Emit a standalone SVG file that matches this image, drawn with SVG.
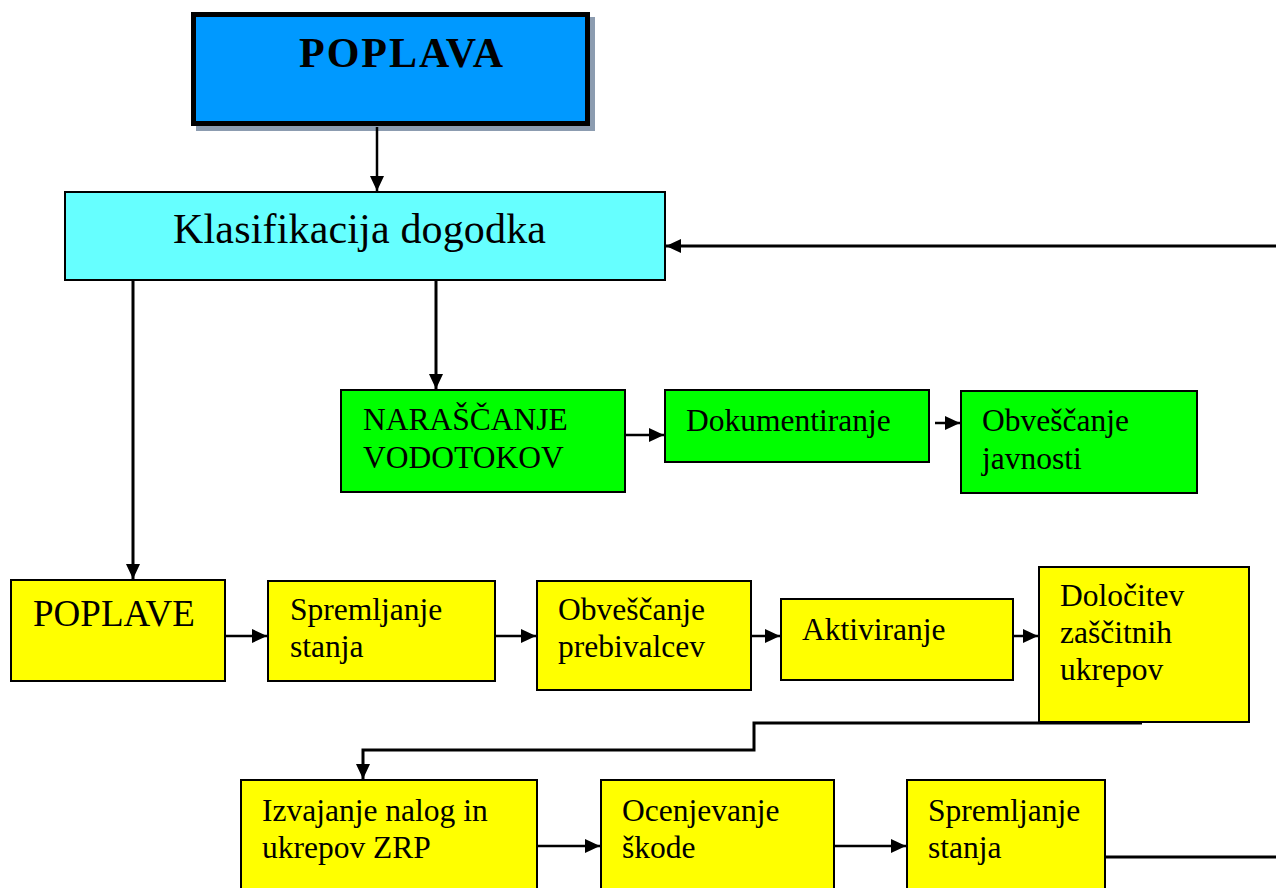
<svg xmlns="http://www.w3.org/2000/svg" width="1276" height="888" viewBox="0 0 1276 888">
<style>
.t{font-family:"Liberation Serif","Times New Roman",serif;fill:#000;font-size:31.5px}
.g{fill:#00ff00;stroke:#000;stroke-width:2}
.y{fill:#ffff00;stroke:#000;stroke-width:2}
.c{fill:none;stroke:#000;stroke-width:3}
.c2{fill:none;stroke:#000;stroke-width:2.5}
</style>
<defs>
<marker id="ah" markerWidth="16" markerHeight="14" refX="15" refY="7" orient="auto" markerUnits="userSpaceOnUse">
<path d="M0,0 L15,7 L0,14 Z" fill="#000"/>
</marker>
</defs>
<rect width="1276" height="888" fill="#fff"/>
<g id="poplava">
<rect x="196" y="17" width="399" height="114" fill="#8c9cb0"/>
<rect x="193.5" y="14.5" width="394" height="109" fill="#0099ff" stroke="#000" stroke-width="5"/>
<text class="t" x="299" y="67" style="font-size:42px" font-weight="bold" textLength="204" lengthAdjust="spacing">POPLAVA</text>
</g>
<g id="klasifikacija">
<rect x="65" y="192" width="600" height="88" fill="#66ffff" stroke="#000" stroke-width="2"/>
<text class="t" x="173" y="243" style="font-size:42px" textLength="373" lengthAdjust="spacing">Klasifikacija dogodka</text>
</g>
<g id="narascanje">
<rect class="g" x="341" y="390" width="284" height="102"/>
<text class="t" x="363" y="430">NARAŠČANJE</text>
<text class="t" x="363" y="468">VODOTOKOV</text>
</g>
<g id="dokumentiranje">
<rect class="g" x="665" y="390" width="264" height="72"/>
<text class="t" x="686" y="431">Dokumentiranje</text>
</g>
<g id="obvescanje-javnosti">
<rect class="g" x="961" y="391" width="236" height="102"/>
<text class="t" x="982" y="431">Obveščanje</text>
<text class="t" x="982" y="469">javnosti</text>
</g>
<g id="poplave">
<rect class="y" x="11" y="580" width="214" height="101"/>
<text class="t" x="33" y="626" style="font-size:37px">POPLAVE</text>
</g>
<g id="spremljanje1">
<rect class="y" x="268" y="581" width="227" height="100"/>
<text class="t" x="290" y="620">Spremljanje</text>
<text class="t" x="290" y="657">stanja</text>
</g>
<g id="obvescanje-prebivalcev">
<rect class="y" x="537" y="581" width="214" height="109"/>
<text class="t" x="558" y="620">Obveščanje</text>
<text class="t" x="558" y="657">prebivalcev</text>
</g>
<g id="aktiviranje">
<rect class="y" x="781" y="599" width="232" height="81"/>
<text class="t" x="802" y="640">Aktiviranje</text>
</g>
<g id="dolocitev">
<rect class="y" x="1039" y="567" width="210" height="155"/>
<text class="t" x="1060" y="606">Določitev</text>
<text class="t" x="1060" y="643">zaščitnih</text>
<text class="t" x="1060" y="680">ukrepov</text>
</g>
<g id="izvajanje">
<rect class="y" x="241" y="780" width="296" height="120"/>
<text class="t" x="262" y="821">Izvajanje nalog in</text>
<text class="t" x="262" y="858">ukrepov ZRP</text>
</g>
<g id="ocenjevanje">
<rect class="y" x="601" y="780" width="233" height="120"/>
<text class="t" x="622" y="821">Ocenjevanje</text>
<text class="t" x="622" y="858">škode</text>
</g>
<g id="spremljanje2">
<rect class="y" x="907" y="780" width="198" height="120"/>
<text class="t" x="928" y="821">Spremljanje</text>
<text class="t" x="928" y="858">stanja</text>
</g>
<g id="connectors">
<path class="c2" d="M377,127 V191" marker-end="url(#ah)"/>
<path class="c" d="M1276,246 H666" marker-end="url(#ah)"/>
<path class="c" d="M133,281 V579" marker-end="url(#ah)"/>
<path class="c" d="M436,281 V389" marker-end="url(#ah)"/>
<path class="c2" d="M625,435 H664" marker-end="url(#ah)"/>
<path class="c2" d="M935,423 H960" marker-end="url(#ah)"/>
<path class="c2" d="M225,636 H267" marker-end="url(#ah)"/>
<path class="c2" d="M495,636 H536" marker-end="url(#ah)"/>
<path class="c2" d="M751,636 H780" marker-end="url(#ah)"/>
<path class="c2" d="M1013,636 H1038" marker-end="url(#ah)"/>
<path class="c" d="M1142,723 H754 V750 H363 V779" marker-end="url(#ah)"/>
<path class="c2" d="M537,846 H600" marker-end="url(#ah)"/>
<path class="c2" d="M834,846 H906" marker-end="url(#ah)"/>
<path class="c" d="M1105,857 H1276"/>
</g>
</svg>
